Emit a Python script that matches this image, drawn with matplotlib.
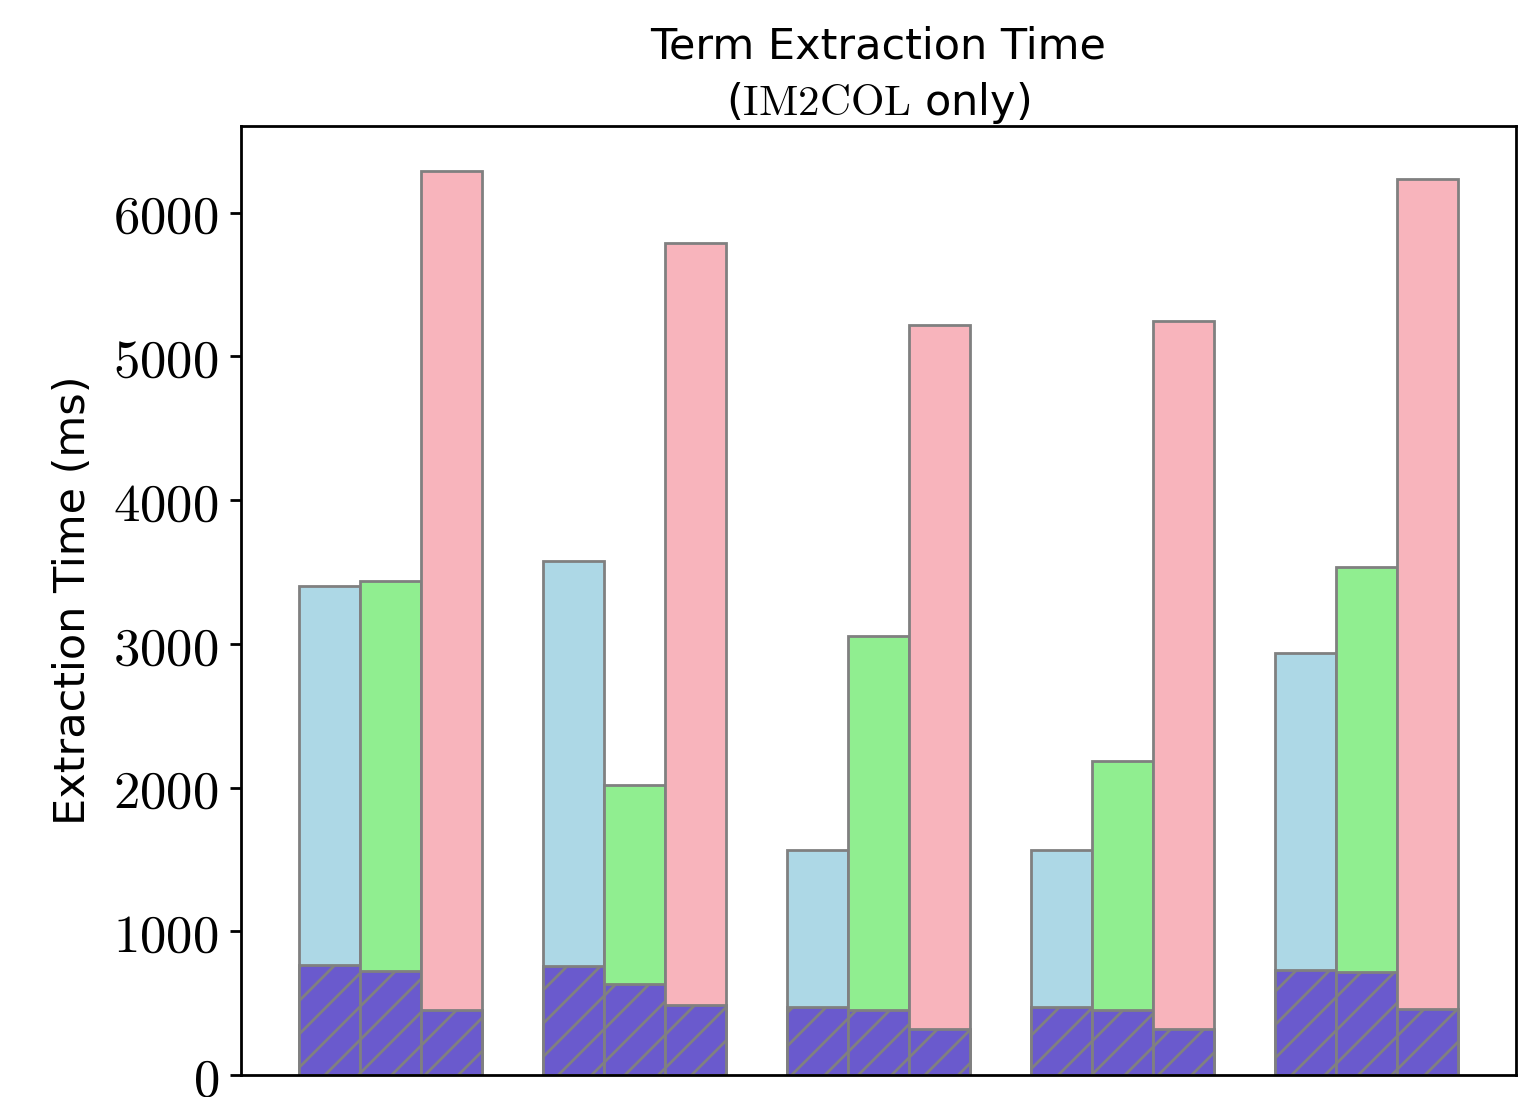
import numpy as np
import matplotlib
matplotlib.use("Agg")
import matplotlib.pyplot as plt

# ============================================================
# DATA
# ============================================================

groups = np.arange(5)

total_a = [3400, 3574, 1565, 1565, 2935]
total_b = [3435, 2017, 3053, 2184, 3533]
total_c = [6287, 5786, 5216, 5243, 6231]

part_a = [765, 758, 473, 473, 730]
part_b = [723, 633, 452, 452, 716]
part_c = [452, 487, 320, 320, 459]

colors = ["lightblue", "lightgreen", "#F8B4BC"]

yticks = [0, 1000, 2000, 3000, 4000, 5000, 6000]

# ============================================================
# STYLE
# ============================================================

plt.rcParams["mathtext.fontset"] = "cm"
plt.rcParams["hatch.color"] = "gray"
plt.rcParams["hatch.linewidth"] = 2.0

W = 0.25

fig = plt.figure(figsize=(15.27, 10.97), dpi=100)
ax = fig.add_axes([0.1578, 0.02, 0.8350, 0.865])

offsets = [-W, 0, W]
totals = [total_a, total_b, total_c]
parts = [part_a, part_b, part_c]

for off, tot, part, col in zip(offsets, totals, parts, colors):
    ax.bar(groups + off, tot, W, color=col, edgecolor="gray", linewidth=2)
    ax.bar(groups + off, part, W, color="slateblue", edgecolor="gray",
           linewidth=2, hatch="/")

ax.set_xticks([])
ax.set_yticks(yticks)
ax.set_yticklabels([f"${v}$" for v in yticks], fontsize=38)
ax.tick_params(axis="y", length=8, width=2, pad=8)

for s in ax.spines.values():
    s.set_linewidth(2)

ax.set_ylabel("Extraction Time (ms)", fontsize=31, labelpad=14)
ax.set_title("Term Extraction Time\n(" + r"$\mathrm{IM2COL}$" + " only)",
             fontsize=31, pad=8, linespacing=1.35)

fig.savefig("out.png", dpi=100)
